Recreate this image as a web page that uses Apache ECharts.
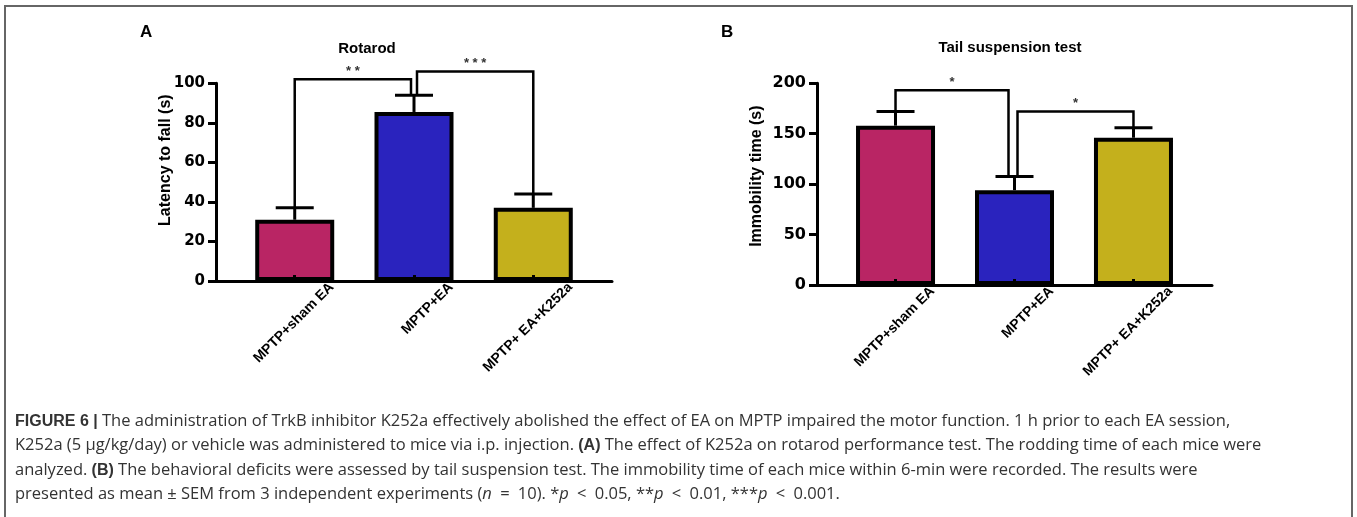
<!DOCTYPE html>
<html>
<head>
<meta charset="utf-8">
<script src="https://cdn.jsdelivr.net/npm/echarts@6/dist/echarts.min.js"></script>
<style>
  html, body { margin: 0; padding: 0; background: #fff; }
  #chart { width: 1357px; height: 517px; }
</style>
</head>
<body>
<div id="chart"></div>
<script>
// ---- data ----
const categories = ['MPTP+sham EA', 'MPTP+EA', 'MPTP+ EA+K252a'];
const barColors = ['#B92564', '#2A23BE', '#C4B01C'];

const rotarodMean = [31, 85.5, 37];
const rotarodSem = [6, 8.5, 7];
const rotarodTicks = [0, 20, 40, 60, 80, 100];
const rotarodPairs = [[0, 1], [1, 2]];
const rotarodBracketTop = [102, 106];
const rotarodStars = ['**', '***'];

const tailMean = [158, 94, 146];
const tailSem = [14, 13.5, 10];
const tailTicks = [0, 50, 100, 150, 200];
const tailPairs = [[0, 1], [1, 2]];
const tailBracketTop = [193, 172];
const tailStars = ['*', '*'];

const SP = '\u2002'; // wider spaces around math operators
const captionLines = [
  '{b|FIGURE 6 |} The administration of TrkB inhibitor K252a effectively abolished the effect of EA on MPTP impaired the motor function. 1 h prior to each EA session,',
  'K252a (5 \u03bcg/kg/day) or vehicle was administered to mice via i.p. injection. {b|(A)} The effect of K252a on rotarod performance test. The rodding time of each mice were',
  'analyzed. {b|(B)} The behavioral deficits were assessed by tail suspension test. The immobility time of each mice within 6-min were recorded. The results were',
  `presented as mean \u00b1 SEM from 3 independent experiments ({i|n}${SP}=${SP}10). *{i|p}${SP}<${SP}0.05, **{i|p}${SP}<${SP}0.01, ***{i|p}${SP}<${SP}0.001.`
];

// ---- helpers ----
const LABEL_SHIFT = 0.31; // rotated labels sit right of the bar centre
const CAPTION_FONT = 'Open Sans';

function xAxisFor(gridIndex) {
  return {
    gridIndex, type: 'value', min: -0.66, max: 2.66, z: 5,
    splitLine: { show: false },
    axisLine: { show: true, onZero: false, lineStyle: { color: '#000', width: 3 } },
    axisTick: { show: true, inside: true, length: 6, customValues: [0, 1, 2], lineStyle: { color: '#000', width: 3 } },
    axisLabel: {
      customValues: [0, 1, 2].map(v => v + LABEL_SHIFT),
      formatter: v => categories[Math.round(v - LABEL_SHIFT)] || '',
      rotate: 45, margin: 4, color: '#000',
      fontFamily: 'Arial', fontWeight: 'bold', fontSize: 14
    }
  };
}

function yAxisFor(gridIndex, ticks, name, nameGap, pad, fontSize) {
  return {
    gridIndex, type: 'value', min: ticks[0], max: ticks[ticks.length - 1],
    interval: ticks[1] - ticks[0], z: 5,
    splitLine: { show: false },
    axisLine: { show: true, onZero: false, lineStyle: { color: '#000', width: 3 } },
    axisTick: { show: true, length: 8, lineStyle: { color: '#000', width: 3 } },
    axisLabel: { color: '#000', fontFamily: 'DejaVu Sans', fontWeight: 'bold', fontSize, margin: 11 },
    name, nameLocation: 'middle', nameGap, nameRotate: 90, nameMoveOverlap: false,
    nameTextStyle: { color: '#000', fontFamily: 'Arial', fontWeight: 'bold', fontSize: 16, padding: pad }
  };
}

function panelSeries(idx, mean, sem, pairs, tops, stars, legShift, capHalf) {
  const bars = {
    type: 'bar', xAxisIndex: idx, yAxisIndex: idx, barWidth: 79,
    data: mean.map((m, i) => ({ value: [i, m], itemStyle: { color: barColors[i] } })),
    itemStyle: { borderColor: '#000', borderWidth: 4 },
    z: 2
  };
  const errors = {
    type: 'custom', xAxisIndex: idx, yAxisIndex: idx, z: 3,
    data: mean.map((m, i) => [i, m, sem[i]]),
    renderItem(params, api) {
      const base = api.coord([api.value(0), api.value(1)]);
      const top = api.coord([api.value(0), api.value(1) + api.value(2)]);
      const st = { stroke: '#000', lineWidth: 3 };
      return { type: 'group', children: [
        { type: 'line', shape: { x1: base[0], y1: base[1], x2: top[0], y2: top[1] }, style: st },
        { type: 'line', shape: { x1: top[0] - capHalf, y1: top[1], x2: top[0] + capHalf, y2: top[1] }, style: st }
      ]};
    }
  };
  const brackets = {
    type: 'custom', xAxisIndex: idx, yAxisIndex: idx, z: 4, clip: false,
    data: pairs.map((p, k) => [p[0], p[1], tops[k], mean[p[0]] + sem[p[0]], mean[p[1]] + sem[p[1]], k]),
    renderItem(params, api) {
      const k = api.value(5);
      const l0 = api.coord([api.value(0), api.value(3)]);
      const r0 = api.coord([api.value(1), api.value(4)]);
      const topY = api.coord([0, api.value(2)])[1];
      const lx = l0[0] + (k > 0 ? legShift[1] : 0);
      const rx = r0[0] + (k < pairs.length - 1 ? legShift[0] : 0);
      return { type: 'group', children: [
        { type: 'polyline', shape: { points: [[lx, l0[1]], [lx, topY], [rx, topY], [rx, r0[1]]] },
          style: { stroke: '#000', lineWidth: 2.5, fill: 'none' } },
        { type: 'text', x: (lx + rx) / 2, y: topY - 8,
          style: { text: stars[k].split('').join(' '), align: 'center', verticalAlign: 'middle', fill: '#333',
                   font: 'bold 13px Arial' } }
      ]};
    }
  };
  return [bars, errors, brackets];
}

// ---- chart ----
const chart = echarts.init(document.getElementById('chart'), null, { renderer: 'canvas' });

const titles = [
  { text: 'A', left: 140, top: 24, textStyle: { fontSize: 17, fontWeight: 'bold', fontFamily: 'Arial', color: '#000' } },
  { text: 'B', left: 721, top: 24, textStyle: { fontSize: 17, fontWeight: 'bold', fontFamily: 'Arial', color: '#000' } },
  { text: 'Rotarod', left: 367, top: 41, textAlign: 'center', textStyle: { fontSize: 15, fontWeight: 'bold', fontFamily: 'Arial', color: '#000' } },
  { text: 'Tail suspension test', left: 1010, top: 40, textAlign: 'center', textStyle: { fontSize: 15, fontWeight: 'bold', fontFamily: 'Arial', color: '#000' } }
];
const captionTops = [413, 437, 462, 486];
captionLines.forEach((line, i) => {
  titles.push({
    text: line, left: 15, top: captionTops[i],
    textStyle: {
      fontSize: 16.5, fontWeight: 'normal', fontFamily: CAPTION_FONT, color: '#333',
      rich: {
        b: { fontSize: 16, fontWeight: 'bold', fontFamily: 'Liberation Sans', color: '#333' },
        i: { fontSize: 16.5, fontStyle: 'italic', fontFamily: CAPTION_FONT, color: '#333' }
      }
    }
  });
});
titles.forEach(t => { t.padding = 0; });

const option = {
  backgroundColor: '#fff',
  animation: false,
  title: titles,
  grid: [
    { left: 216, top: 83.3, width: 396, height: 197.7 },
    { left: 817, top: 83.3, width: 395, height: 201.7 }
  ],
  xAxis: [xAxisFor(0), xAxisFor(1)],
  yAxis: [
    yAxisFor(0, rotarodTicks, 'Latency to fall (s)', 42, [0, 0, 0, 44], 15),
    yAxisFor(1, tailTicks, 'Immobility time (s)', 52, [0, 0, 0, 16], 16)
  ],
  series: [
    ...panelSeries(0, rotarodMean, rotarodSem, rotarodPairs, rotarodBracketTop, rotarodStars, [-3, 3], 19),
    ...panelSeries(1, tailMean, tailSem, tailPairs, tailBracketTop, tailStars, [-6, 3], 19)
  ],
  graphic: [
    { type: 'rect', silent: true, shape: { x: 5, y: 6, width: 1347, height: 600 },
      style: { fill: 'none', stroke: '#666', lineWidth: 2 } }
  ]
};

chart.setOption(option);
</script>
</body>
</html>
